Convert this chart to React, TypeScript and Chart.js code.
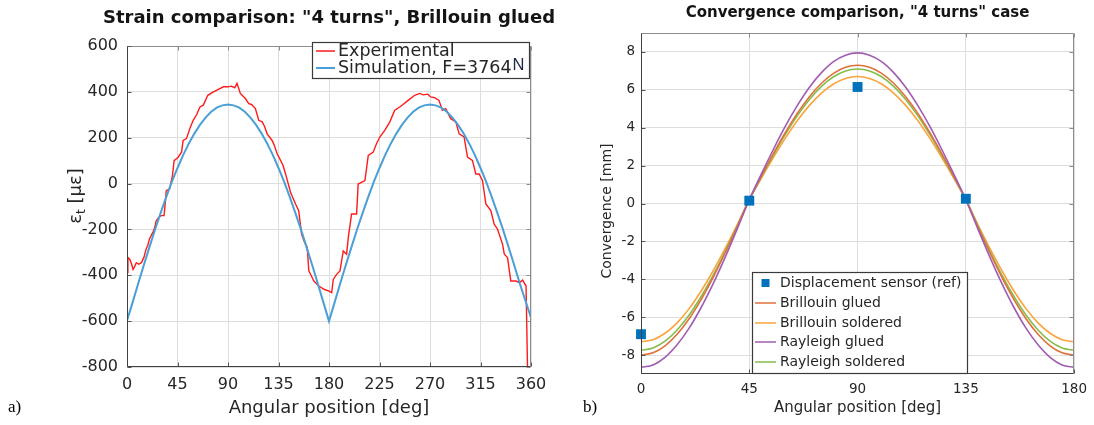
import React, { useEffect, useRef } from 'react';
import { Chart, registerables } from 'chart.js';

Chart.register(...registerables);

// ---------- Panel a: strain comparison ----------
const strainTicksX = [0, 45, 90, 135, 180, 225, 270, 315, 360];
const strainTicksY = [-800, -600, -400, -200, 0, 200, 400, 600];

const expAngles = [
  0, 0.8, 2.4, 4, 5.4, 7, 8.3, 10.5, 12.8, 15, 17, 18.5, 20, 23, 24.5, 26, 28, 30, 33, 34,
  35, 38, 40.5, 42, 45.6, 48.6, 50, 53, 56, 59, 62, 65, 68, 72, 77, 81, 86, 90, 93, 96,
  98, 101, 105.5, 108.5, 111, 114.4, 117.4, 120.4, 122.5, 124.9, 129.3, 131, 133.8, 136.8, 139, 141.3, 145.7, 150.2, 153, 155.6,
  157.7, 160.6, 162, 164, 166.5, 171, 175.5, 180, 182.4, 183.8, 186.8, 189.8, 192.7, 195.7, 197.2, 200.1, 204.6, 206, 212, 215,
  219.4, 222.3, 225.3, 229.7, 234.2, 238.6, 243, 246, 250.5, 256.4, 260.8, 264, 268, 270.6, 274.1, 278, 281, 284, 288.5, 293,
  296, 300.4, 303.4, 307.8, 310.8, 313.8, 316.8, 319.8, 324.2, 327.2, 330.2, 334.7, 336.2, 339.1, 342, 346.6, 349.6, 352.5, 355.6, 356.3,
  357,
];
const expStrain = [
  -388, -323, -330, -350, -374, -360, -345, -352, -345, -323, -286, -270, -242, -213, -195, -162, -150, -140, -140, -90,
  -31, -23, 35, 100, 115, 137, 188, 196, 240, 276, 300, 334, 342, 385, 400, 410, 422, 422, 425, 418,
  437, 393, 371, 349, 345, 327, 276, 269, 250, 217, 188, 170, 130, 101, 80, 42, -38, -89, -118, -220,
  -250, -279, -381, -400, -425, -447, -461, -469, -476, -418, -396, -381, -294, -308, -236, -133, -133, -2, 13, 123,
  137, 174, 203, 232, 269, 320, 334, 345, 363, 385, 393, 387, 390, 378, 375, 363, 320, 327, 283, 269,
  217, 203, 115, 101, 42, 42, 13, -89, -118, -177, -199, -265, -308, -323, -425, -425, -432, -421, -447, -447,
  -830,
];

const simAngles = [
  0, 5, 10, 15, 20, 25, 30, 35, 40, 45, 50, 55, 60, 65, 70, 75, 80, 85, 90,
  95, 100, 105, 110, 115, 120, 125, 130, 135, 140, 145, 150, 155, 160, 165, 170, 175, 180,
  185, 190, 195, 200, 205, 210, 215, 220, 225, 230, 235, 240, 245, 250, 255, 260, 265, 270,
  275, 280, 285, 290, 295, 300, 305, 310, 315, 320, 325, 330, 335, 340, 345, 350, 355, 360,
];
const simStrain = [
  -598, -518, -436, -355, -277, -200, -128, -58, 8, 68, 124, 174, 218, 256, 288, 313, 331, 341, 345,
  341, 331, 313, 288, 256, 218, 174, 124, 68, 8, -58, -128, -200, -277, -355, -436, -518, -600,
  -518, -436, -355, -277, -200, -128, -58, 8, 68, 124, 174, 218, 256, 288, 313, 331, 341, 345,
  341, 331, 313, 288, 256, 218, 174, 124, 68, 8, -58, -128, -200, -277, -355, -436, -510, -585,
];

// ---------- Panel b: convergence comparison ----------
const convTicksX = [0, 45, 90, 135, 180];
const convTicksY = [-8, -6, -4, -2, 0, 2, 4, 6, 8];

const convAngles = [
  0, 5, 10, 15, 20, 25, 30, 35, 40, 45, 50, 55, 60, 65, 70, 75, 80, 85, 90,
  95, 100, 105, 110, 115, 120, 125, 130, 135, 140, 145, 150, 155, 160, 165, 170, 175, 180,
];
const brillouinGlued = [
  -8.0, -7.88, -7.51, -6.9, -6.08, -5.07, -3.9, -2.6, -1.23, 0.2, 1.44, 2.63, 3.75, 4.77, 5.64, 6.35, 6.87, 7.19, 7.3,
  7.19, 6.87, 6.35, 5.64, 4.77, 3.75, 2.63, 1.44, 0.2, -1.23, -2.6, -3.9, -5.07, -6.08, -6.9, -7.51, -7.88, -8.0,
];
const brillouinSoldered = [
  -7.3, -7.19, -6.85, -6.3, -5.55, -4.62, -3.55, -2.37, -1.11, 0.2, 1.33, 2.42, 3.45, 4.38, 5.18, 5.83, 6.31, 6.6, 6.7,
  6.6, 6.31, 5.83, 5.18, 4.38, 3.45, 2.42, 1.33, 0.2, -1.11, -2.37, -3.55, -4.62, -5.55, -6.3, -6.85, -7.19, -7.3,
];
const rayleighGlued = [
  -8.65, -8.52, -8.12, -7.46, -6.58, -5.49, -4.23, -2.83, -1.34, 0.2, 1.55, 2.85, 4.08, 5.18, 6.14, 6.91, 7.49, 7.83, 7.95,
  7.83, 7.49, 6.91, 6.14, 5.18, 4.08, 2.85, 1.55, 0.2, -1.34, -2.83, -4.23, -5.49, -6.58, -7.46, -8.12, -8.52, -8.65,
];
const rayleighSoldered = [
  -7.75, -7.63, -7.27, -6.68, -5.89, -4.91, -3.78, -2.52, -1.18, 0.2, 1.4, 2.56, 3.65, 4.64, 5.49, 6.18, 6.69, 7.0, 7.1,
  7.0, 6.69, 6.18, 5.49, 4.64, 3.65, 2.56, 1.4, 0.2, -1.18, -2.52, -3.78, -4.91, -5.89, -6.68, -7.27, -7.63, -7.75,
];
const sensorAngles = [0, 45, 90, 135];
const sensorValues = [-6.9, 0.15, 6.15, 0.25];

const FONT = "'DejaVu Sans', sans-serif";
const TEXT = '#262626';
const GRID = '#dedede';

const pts = (xs: number[], ys: number[]) => xs.map((x, i) => ({ x, y: ys[i] }));

type LegendItem = { label: string; color: string; kind: 'line' | 'square'; width?: number; suffix?: string };

type Decor = {
  title: string;
  titleSize: number;
  titleY: number;
  xTitle: string;
  xTitleY: number;
  axisTitleSize: number;
  yTitleX: number;
  yTitleY: number;
  yTitle: (ctx: CanvasRenderingContext2D) => void;
  legend: {
    x: number; y: number; w: number; h: number;
    rows: number[]; lineX0: number; lineX1: number; textX: number; size: number;
    items: LegendItem[];
  };
};

function decorPlugin(d: Decor) {
  return {
    id: 'decor',
    afterDatasetsDraw(chart: any) {
      const { ctx, chartArea: a, scales } = chart;
      const L = Math.round(a.left) + 0.5;
      const R = Math.round(a.right) - 0.5;
      const T = Math.round(a.top) + 0.5;
      const B = Math.round(a.bottom) - 0.5;
      ctx.save();
      ctx.lineWidth = 1;
      // light top / right edges of the box
      ctx.strokeStyle = '#8c8c8c';
      ctx.beginPath();
      ctx.moveTo(L, T); ctx.lineTo(R, T); ctx.lineTo(R, B);
      ctx.stroke();
      // tick marks pointing inwards on all four sides
      scales.x.ticks.forEach((t: any) => {
        const px = Math.round(scales.x.getPixelForValue(t.value)) + 0.5;
        ctx.strokeStyle = '#555';
        ctx.beginPath(); ctx.moveTo(px, B); ctx.lineTo(px, B - 4); ctx.stroke();
        ctx.strokeStyle = '#8c8c8c';
        ctx.beginPath(); ctx.moveTo(px, T); ctx.lineTo(px, T + 4); ctx.stroke();
      });
      scales.y.ticks.forEach((t: any) => {
        const py = Math.round(scales.y.getPixelForValue(t.value)) + 0.5;
        ctx.strokeStyle = '#555';
        ctx.beginPath(); ctx.moveTo(L, py); ctx.lineTo(L + 4, py); ctx.stroke();
        ctx.strokeStyle = '#8c8c8c';
        ctx.beginPath(); ctx.moveTo(R, py); ctx.lineTo(R - 4, py); ctx.stroke();
      });
      // dark left / bottom axis lines
      ctx.strokeStyle = '#404040';
      ctx.beginPath();
      ctx.moveTo(L, T); ctx.lineTo(L, B); ctx.lineTo(R, B);
      ctx.stroke();
      ctx.restore();
    },
    afterDraw(chart: any) {
      const { ctx, chartArea: a } = chart;
      const cx = (a.left + a.right) / 2;
      ctx.save();
      ctx.textBaseline = 'middle';
      // title
      ctx.fillStyle = '#141414';
      ctx.textAlign = 'center';
      ctx.font = `bold ${d.titleSize}px ${FONT}`;
      ctx.fillText(d.title, cx, d.titleY);
      // x axis title
      ctx.fillStyle = TEXT;
      ctx.font = `${d.axisTitleSize}px ${FONT}`;
      ctx.fillText(d.xTitle, cx, d.xTitleY);
      // y axis title
      ctx.save();
      ctx.translate(d.yTitleX, d.yTitleY);
      ctx.rotate(-Math.PI / 2);
      d.yTitle(ctx);
      ctx.restore();
      // legend box
      const lg = d.legend;
      ctx.fillStyle = '#ffffff';
      ctx.fillRect(lg.x, lg.y, lg.w, lg.h);
      ctx.strokeStyle = '#3a3a3a';
      ctx.lineWidth = 1.2;
      ctx.strokeRect(lg.x + 0.5, lg.y + 0.5, lg.w, lg.h);
      ctx.textAlign = 'left';
      ctx.font = `${lg.size}px ${FONT}`;
      lg.items.forEach((it, i) => {
        const y = lg.rows[i];
        if (it.kind === 'line') {
          ctx.strokeStyle = it.color;
          ctx.lineWidth = it.width ?? 1.5;
          ctx.beginPath(); ctx.moveTo(lg.lineX0, y); ctx.lineTo(lg.lineX1, y); ctx.stroke();
        } else {
          const m = (lg.lineX0 + lg.lineX1) / 2;
          ctx.fillStyle = it.color;
          ctx.fillRect(m - 4, y - 4, 8, 8);
        }
        ctx.fillStyle = TEXT;
        ctx.font = `${lg.size}px ${FONT}`;
        ctx.fillText(it.label, lg.textX, y + 0.5);
        if (it.suffix) {
          const w = ctx.measureText(it.label).width;
          ctx.fillStyle = '#1d2748';
          ctx.font = `${lg.size - 1}px 'Liberation Sans', sans-serif`;
          ctx.fillText(it.suffix, lg.textX + w + 1, y - 3);
        }
      });
      ctx.restore();
    },
  };
}

function axisScale(min: number, max: number, ticks: number[], size: number, pad: number, fit: (s: any) => void) {
  return {
    type: 'linear' as const,
    min,
    max,
    afterBuildTicks: (s: any) => { s.ticks = ticks.map((v) => ({ value: v })); },
    afterFit: fit,
    grid: { color: GRID, drawTicks: false, lineWidth: 1 },
    border: { display: false },
    ticks: { font: { family: FONT, size }, color: TEXT, padding: pad, maxRotation: 0, autoSkip: false },
  };
}

function StrainPanel() {
  const ref = useRef<HTMLCanvasElement>(null);
  useEffect(() => {
    const decor = decorPlugin({
      title: 'Strain comparison: "4 turns", Brillouin glued',
      titleSize: 18,
      titleY: 18,
      xTitle: 'Angular position [deg]',
      xTitleY: 408,
      axisTitleSize: 18,
      yTitleX: 76,
      yTitleY: 196,
      yTitle: (ctx) => {
        const big = `18px ${FONT}`;
        const small = `12px ${FONT}`;
        ctx.font = big; const w1 = ctx.measureText('ε').width;
        ctx.font = small; const w2 = ctx.measureText('t').width;
        ctx.font = big; const w3 = ctx.measureText(' [με]').width;
        let x = -(w1 + w2 + w3) / 2;
        ctx.fillStyle = TEXT;
        ctx.textAlign = 'left';
        ctx.textBaseline = 'middle';
        ctx.font = big; ctx.fillText('ε', x, 0); x += w1;
        ctx.font = small; ctx.fillText('t', x, 6); x += w2;
        ctx.font = big; ctx.fillText(' [με]', x, 0);
      },
      legend: {
        x: 312, y: 42, w: 217, h: 36,
        rows: [51, 68], lineX0: 316, lineX1: 335, textX: 338, size: 17.5,
        items: [
          { label: 'Experimental', color: '#ff1a1a', kind: 'line', width: 1.5 },
          { label: 'Simulation, F=3764', color: '#4a9fd6', kind: 'line', width: 2, suffix: 'N' },
        ],
      },
    });
    const chart = new Chart(ref.current!, {
      type: 'line',
      data: {
        datasets: [
          {
            label: 'Simulation, F=3764N',
            data: pts(simAngles, simStrain),
            borderColor: '#4a9fd6',
            borderWidth: 2,
            pointRadius: 0,
            tension: 0,
          },
          {
            label: 'Experimental',
            data: pts(expAngles, expStrain),
            borderColor: '#ff1a1a',
            borderWidth: 1.4,
            pointRadius: 0,
            tension: 0,
          },
        ],
      },
      options: {
        animation: false,
        responsive: false,
        maintainAspectRatio: false,
        layout: { padding: { top: 46, right: 29, left: 0, bottom: 0 } },
        plugins: { legend: { display: false }, title: { display: false }, tooltip: { enabled: false } },
        scales: {
          x: axisScale(0, 360, strainTicksX, 16, 8, (s: any) => { s.height = 58; }),
          y: axisScale(-800, 600, strainTicksY, 16, 9, (s: any) => { s.width = 127; }),
        },
      },
      plugins: [decor],
    });
    return () => chart.destroy();
  }, []);
  return <canvas ref={ref} width={560} height={425} style={{ position: 'absolute', left: 0, top: 0 }} />;
}

function ConvergencePanel() {
  const ref = useRef<HTMLCanvasElement>(null);
  useEffect(() => {
    const decor = decorPlugin({
      title: 'Convergence comparison, "4 turns" case',
      titleSize: 15,
      titleY: 13,
      xTitle: 'Angular position [deg]',
      xTitleY: 408,
      axisTitleSize: 15,
      yTitleX: 47,
      yTitleY: 211,
      yTitle: (ctx) => {
        ctx.fillStyle = TEXT;
        ctx.textAlign = 'center';
        ctx.textBaseline = 'middle';
        ctx.font = `14px ${FONT}`;
        ctx.fillText('Convergence [mm]', 0, 0);
      },
      legend: {
        x: 192, y: 272, w: 215, h: 101,
        rows: [283, 303, 323, 342, 362], lineX0: 195, lineX1: 216, textX: 220, size: 14,
        items: [
          { label: 'Displacement sensor (ref)', color: '#0072bd', kind: 'square' },
          { label: 'Brillouin glued', color: '#e0703c', kind: 'line' },
          { label: 'Brillouin soldered', color: '#fba33d', kind: 'line' },
          { label: 'Rayleigh glued', color: '#a05cb4', kind: 'line' },
          { label: 'Rayleigh soldered', color: '#86bd4a', kind: 'line' },
        ],
      },
    });
    const line = (label: string, ys: number[], color: string) => ({
      label,
      data: pts(convAngles, ys),
      borderColor: color,
      borderWidth: 1.6,
      pointRadius: 0,
      tension: 0.3,
    });
    const chart = new Chart(ref.current!, {
      type: 'line',
      data: {
        datasets: [
          {
            label: 'Displacement sensor (ref)',
            data: pts(sensorAngles, sensorValues),
            showLine: false,
            pointStyle: 'rect',
            pointRadius: 7,
            pointBackgroundColor: '#0072bd',
            pointBorderColor: '#0072bd',
            pointBorderWidth: 0,
            clip: false,
          } as any,
          line('Rayleigh glued', rayleighGlued, '#a05cb4'),
          line('Brillouin glued', brillouinGlued, '#e0703c'),
          line('Rayleigh soldered', rayleighSoldered, '#86bd4a'),
          line('Brillouin soldered', brillouinSoldered, '#fba33d'),
        ],
      },
      options: {
        animation: false,
        responsive: false,
        maintainAspectRatio: false,
        layout: { padding: { top: 33, right: 17, left: 0, bottom: 0 } },
        plugins: { legend: { display: false }, title: { display: false }, tooltip: { enabled: false } },
        scales: {
          x: axisScale(0, 180, convTicksX, 13.5, 7, (s: any) => { s.height = 51; }),
          y: axisScale(-9, 9, convTicksY, 13.5, 6, (s: any) => { s.width = 81; }),
        },
      },
      plugins: [decor],
    });
    return () => chart.destroy();
  }, []);
  return <canvas ref={ref} width={534} height={425} style={{ position: 'absolute', left: 560, top: 0 }} />;
}

export default function App() {
  const tag: React.CSSProperties = {
    position: 'absolute',
    fontFamily: "'Liberation Serif', 'Times New Roman', serif",
    fontSize: 17,
    color: '#000',
    lineHeight: '20px',
  };
  return (
    <div style={{ position: 'absolute', left: 0, top: 0, width: 1094, height: 425, background: '#fff', overflow: 'hidden' }}>
      <StrainPanel />
      <ConvergencePanel />
      <span style={{ ...tag, left: 8, top: 397 }}>a)</span>
      <span style={{ ...tag, left: 583, top: 397 }}>b)</span>
    </div>
  );
}
